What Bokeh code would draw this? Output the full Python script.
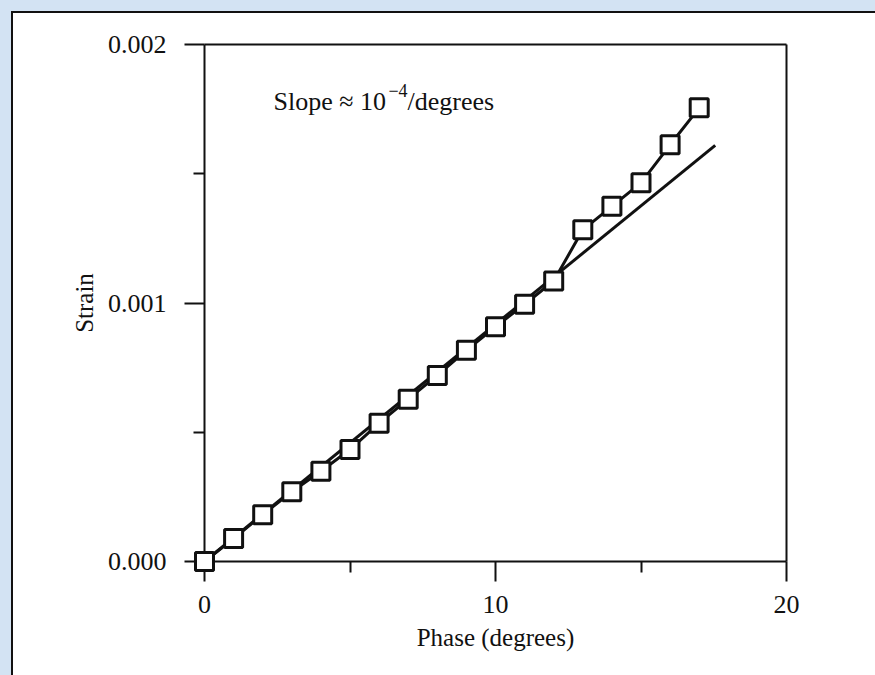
from bokeh.plotting import figure
from bokeh.models import Range1d, FixedTicker, PrintfTickFormatter, Label, LinearAxis
from bokeh.embed import file_html
from bokeh.resources import INLINE

# Measured strain against phase shift
phase = [0, 1, 2, 3, 4, 5, 6, 7, 8, 9, 10, 11, 12, 13, 14, 15, 16, 17]
strain = [0.0, 0.000089, 0.000181, 0.000270, 0.000349, 0.000433, 0.000535,
          0.000628, 0.000720, 0.000817, 0.000908, 0.000995, 0.001085,
          0.001283, 0.001374, 0.001465, 0.001612, 0.001755]

# Straight-line fit through the low-phase region
fit_phase = [0.0, 17.55]
fit_strain = [0.0, 0.00161]

x_major = [0, 10, 20]
x_minor = [5, 15]
y_major = [0.0, 0.001, 0.002]
y_minor = [0.0005, 0.0015]

SERIF = "Liberation Serif"
INK = "#111"
PANEL_BG = "#d3e3f3"

x_lo, x_hi = x_major[0], x_major[-1]
y_lo, y_hi = y_major[0], y_major[-1]

# The data box is 582 x 517 px; leave GAP px of room round it so the
# marker sitting on the origin is drawn whole.
BOX_W, BOX_H, GAP = 582, 517, 11
x_pad = (x_hi - x_lo) * GAP / BOX_W
y_pad = (y_hi - y_lo) * GAP / BOX_H

p = figure(width=875, height=675,
           x_range=Range1d(x_lo - x_pad, x_hi + x_pad),
           y_range=Range1d(y_lo - y_pad, y_hi + y_pad),
           x_axis_location=None, y_axis_location=None,
           output_backend="svg", toolbar_location=None,
           min_border_left=193, min_border_right=78,
           min_border_top=33, min_border_bottom=103)

# pale blue surround with a white sheet edged in black
p.styles = {
    "background":
        f"linear-gradient({INK},{INK}) 11px 11px / 100% 2px no-repeat, "
        f"linear-gradient({INK},{INK}) 11px 11px / 2px 100% no-repeat, "
        "linear-gradient(white,white) 11px 11px / 100% 100% no-repeat, "
        f"{PANEL_BG}"
}
p.border_fill_alpha = 0
p.background_fill_color = "white"
p.outline_line_color = None
p.xgrid.visible = False
p.ygrid.visible = False


def style_axis(ax):
    # the axis sits GAP px outside the box, so ticks reach in by GAP
    ax.axis_line_color = None
    ax.major_tick_line_color = INK
    ax.major_tick_line_width = 2
    ax.minor_tick_line_color = INK
    ax.minor_tick_line_width = 2
    ax.major_tick_in = GAP
    ax.major_tick_out = 20 - GAP
    ax.minor_tick_in = GAP
    ax.minor_tick_out = 11 - GAP
    ax.major_label_text_font = SERIF
    ax.major_label_text_font_size = "26px"
    ax.major_label_text_color = INK
    ax.axis_label_text_font = SERIF
    ax.axis_label_text_font_size = "25px"
    ax.axis_label_text_font_style = "normal"
    ax.axis_label_text_color = INK


xaxis = LinearAxis(ticker=FixedTicker(ticks=x_major, minor_ticks=x_minor),
                   axis_label="Phase (degrees)")
style_axis(xaxis)
xaxis.major_label_standoff = 14
xaxis.axis_label_standoff = 8
p.add_layout(xaxis, "below")

yaxis = LinearAxis(ticker=FixedTicker(ticks=y_major, minor_ticks=y_minor),
                   formatter=PrintfTickFormatter(format="%.3f"),
                   axis_label="Strain")
style_axis(yaxis)
yaxis.major_label_standoff = 18
yaxis.axis_label_standoff = 7
p.add_layout(yaxis, "left")

# the four edges of the box, drawn as bare axis lines at the range limits
edges = [
    (LinearAxis(fixed_location=y_lo, bounds=(x_lo, x_hi)), "below"),
    (LinearAxis(fixed_location=y_hi, bounds=(x_lo, x_hi)), "above"),
    (LinearAxis(fixed_location=x_lo, bounds=(y_lo, y_hi)), "left"),
    (LinearAxis(fixed_location=x_hi, bounds=(y_lo, y_hi)), "right"),
]
for ax, side in edges:
    ax.ticker = FixedTicker(ticks=[])
    ax.axis_line_color = INK
    ax.axis_line_width = 2
    ax.major_tick_out = 0
    ax.minor_tick_out = 0
    ax.major_label_text_font_size = "0px"
    p.add_layout(ax, side)

p.line(fit_phase, fit_strain, line_color=INK, line_width=3)
p.line(phase, strain, line_color=INK, line_width=3, level="overlay")
p.scatter(phase, strain, marker="square", size=18, fill_color="white",
          line_color=INK, line_width=3, level="overlay")

# Slope annotation, with a raised exponent
anchor_x, anchor_y = 2.37, 0.00178
p.add_layout(Label(x=anchor_x, y=anchor_y, text="Slope \u2248 10",
                   text_font=SERIF, text_font_size="26px", text_color=INK,
                   text_baseline="alphabetic"))
p.add_layout(Label(x=anchor_x, y=anchor_y, x_offset=115, y_offset=11,
                   text="\u22124", text_font=SERIF, text_font_size="18px",
                   text_color=INK, text_baseline="alphabetic"))
p.add_layout(Label(x=anchor_x, y=anchor_y, x_offset=134, text="/degrees",
                   text_font=SERIF, text_font_size="26px", text_color=INK,
                   text_baseline="alphabetic"))

open("out.html", "w").write(file_html(p, INLINE))
